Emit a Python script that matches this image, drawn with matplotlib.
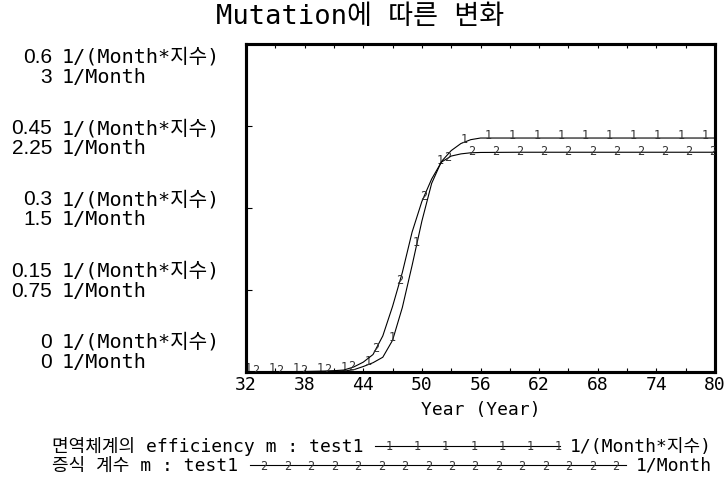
import matplotlib
matplotlib.use('Agg')
import matplotlib.pyplot as plt
import numpy as np

FONT = ['DejaVu Sans Mono', 'Noto Sans CJK KR', 'DejaVu Sans']
NUM_FONT = ['Liberation Sans', 'DejaVu Sans']
plt.rcParams['font.family'] = FONT

# ---------------- data ----------------
title = "Mutation에 따른 변화"
x_label = "Year (Year)"
years = [32, 34, 36, 38, 40, 41, 42, 43, 44, 45, 46, 47, 48, 49, 50,
         51, 52, 53, 54, 55, 56, 58, 60, 65, 70, 75, 80]
efficiency = [0.0, 0.0, 0.0005, 0.001, 0.001, 0.0015, 0.002, 0.004, 0.01,
              0.017, 0.027, 0.058, 0.118, 0.195, 0.276, 0.345, 0.385, 0.405,
              0.418, 0.425, 0.428, 0.428, 0.428, 0.428, 0.428, 0.428, 0.428]
growth = [0.0, 0.001, 0.002, 0.004, 0.008, 0.012, 0.018, 0.045, 0.09, 0.16,
          0.33, 0.6, 0.91, 1.28, 1.56, 1.765, 1.92, 1.975, 1.995, 2.005,
          2.008, 2.009, 2.01, 2.01, 2.01, 2.01, 2.01]
x_ticks = [32, 38, 44, 50, 56, 62, 68, 74, 80]
eff_ticks = ["0", "0.15", "0.3", "0.45", "0.6"]
growth_ticks = ["0", "0.75", "1.5", "2.25", "3"]
eff_unit = "1/(Month*지수)"
growth_unit = "1/Month"
eff_legend = "면역체계의 efficiency m : test1"
growth_legend = "증식 계수 m : test1"

# ---------------- figure ----------------
W, H = 725, 481
fig = plt.figure(figsize=(W / 100, H / 100), dpi=100)
L, R, T, B = 246, 715, 45, 373
ax = fig.add_axes([L / W, 1 - B / H, (R - L) / W, (B - T) / H])
ax2 = ax.twinx()
ax.set_xlim(32, 80)
ax.set_ylim(0, 0.6)
ax2.set_ylim(0, 3)

ax.plot(years, efficiency, color='black', lw=0.8, zorder=3)
ax2.plot(years, growth, color='black', lw=0.8, zorder=3)

# numbered markers along the curves
mk1 = 32.2 + 2.463 * np.arange(20)
mk2 = mk1 + 0.75
for t in mk1:
    v = np.interp(t, years, efficiency)
    ax.annotate("1", (t, v), xytext=(0, 4), textcoords='offset pixels',
                ha='center', va='center', fontsize=8.5, color='#333333',
                annotation_clip=True, clip_on=True, zorder=4)
for t in mk2:
    if t > 80:
        continue
    v = np.interp(t, years, growth)
    ax2.annotate("2", (t, v), xytext=(0, 2), textcoords='offset pixels',
                 ha='center', va='center', fontsize=8.5, color='#333333',
                 annotation_clip=True, clip_on=True, zorder=4)

# axes styling
for a in (ax, ax2):
    for s in a.spines.values():
        s.set_linewidth(2.2)
ax2.set_yticks([])
ax.set_xticks(x_ticks)
ax.set_xticks(np.arange(32, 81, 3), minor=True)
ax.set_xticklabels([str(v) for v in x_ticks], fontsize=13)
ax.tick_params(axis='x', which='both', direction='in', top=True, bottom=True,
               length=3, width=0.8, pad=2)
ax.set_yticks([0, 0.15, 0.3, 0.45, 0.6])
ax.set_yticklabels([])
ax.tick_params(axis='y', direction='in', length=4, width=0.8, left=True)
ax.set_xlabel(x_label, fontsize=13, labelpad=5)

# title
fig.text(360 / W, 1 - 17 / H, title, ha='center', va='center', fontsize=19.5)

# y-axis dual labels (baseline aligned)
top_c, bot_c = 66.7, 352.0
for i, (e, g) in enumerate(zip(eff_ticks, growth_ticks)):
    yc = bot_c - i * (bot_c - top_c) / (len(eff_ticks) - 1)
    for txt, unit, yy in ((e, eff_unit, yc - 10), (g, growth_unit, yc + 10)):
        yb = 1 - (yy + 6) / H
        fig.text(52 / W, yb, txt, ha='right', va='baseline',
                 fontsize=15, family=NUM_FONT)
        fig.text(62 / W, yb, unit, ha='left', va='baseline', fontsize=14.5)

# legend rows
fig.canvas.draw()
rend = fig.canvas.get_renderer()
rows = [(447, eff_legend, eff_unit, "1", 7),
        (466, growth_legend, growth_unit, "2", 16)]
for y, lab, unit, sym, n in rows:
    t1 = fig.text(52 / W, 1 - y / H, lab, ha='left', va='center', fontsize=13)
    t2 = fig.text(712 / W, 1 - y / H, unit, ha='right', va='center', fontsize=13)
    e1 = t1.get_window_extent(rend)
    e2 = t2.get_window_extent(rend)
    x0 = e1.x1 + 12
    x1 = e2.x0 - 10
    fig.add_artist(plt.Line2D([x0 / W, x1 / W], [1 - y / H, 1 - y / H],
                              transform=fig.transFigure, color='black', lw=0.8))
    xs = np.linspace(x0 + 14, x1 - (2 if sym == "1" else 10), n)
    for xx in xs:
        fig.text(xx / W, 1 - y / H, sym, ha='center', va='center',
                 fontsize=8.5, color='#333333')

fig.savefig('out.png', dpi=100)
